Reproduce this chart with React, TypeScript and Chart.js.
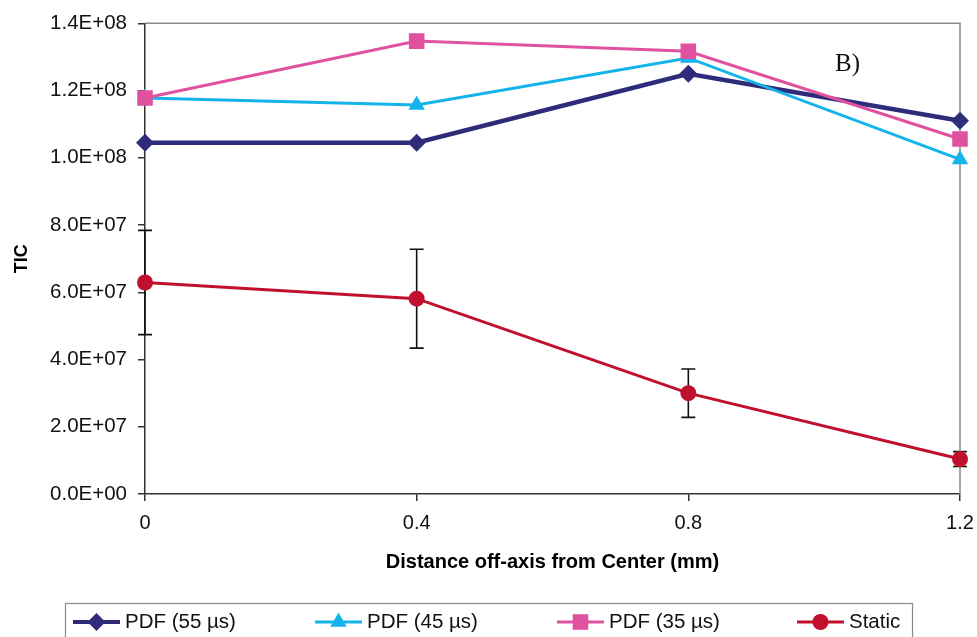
import React, { useEffect, useRef } from 'react';
import { Chart, registerables } from 'chart.js';

Chart.register(...registerables);

// ---- data ----
const distances = ['0', '0.4', '0.8', '1.2'];
const pdf55 = [1.045e8, 1.045e8, 1.25e8, 1.11e8];
const pdf45 = [1.178e8, 1.157e8, 1.297e8, 0.995e8];
const pdf35 = [1.178e8, 1.347e8, 1.317e8, 1.056e8];
const staticVals = [6.29e7, 5.81e7, 3.0e7, 1.04e7];
const staticErr = [1.55e7, 1.47e7, 0.72e7, 0.22e7];
const seriesNames = ['PDF (55 \u00b5s)', 'PDF (45 \u00b5s)', 'PDF (35 \u00b5s)', 'Static'];
const yMax = 1.4e8;
const yStep = 2e7;

const NAVY = '#2E2B7A';
const CYAN = '#14B4EA';
const PINK = '#E0529F';
const RED = '#C0102E';

const FONT = '"Liberation Sans", Arial, sans-serif';

function sci(v: number): string {
  if (v === 0) return '0.0E+00';
  const e = Math.floor(Math.log10(Math.abs(v)) + 1e-9);
  const m = v / Math.pow(10, e);
  const sign = e < 0 ? '-' : '+';
  const ee = Math.abs(e).toString().padStart(2, '0');
  return m.toFixed(1) + 'E' + sign + ee;
}

function drawMarker(ctx: CanvasRenderingContext2D, style: string, x: number, y: number, r: number, color: string) {
  ctx.save();
  ctx.fillStyle = color;
  ctx.beginPath();
  if (style === 'rectRot') {
    ctx.moveTo(x, y - r);
    ctx.lineTo(x + r, y);
    ctx.lineTo(x, y + r);
    ctx.lineTo(x - r, y);
  } else if (style === 'triangle') {
    ctx.moveTo(x, y - r);
    ctx.lineTo(x + r * 0.866, y + r * 0.5);
    ctx.lineTo(x - r * 0.866, y + r * 0.5);
  } else if (style === 'rect') {
    const s = r * Math.SQRT1_2;
    ctx.rect(x - s, y - s, 2 * s, 2 * s);
  } else {
    ctx.arc(x, y, r, 0, Math.PI * 2);
  }
  ctx.closePath();
  ctx.fill();
  ctx.restore();
}

const errorBarPlugin = {
  id: 'errorBars',
  beforeDatasetsDraw(chart: any) {
    const { ctx, scales } = chart;
    const xs = scales.x;
    const ys = scales.y;
    ctx.save();
    ctx.strokeStyle = '#111';
    ctx.lineWidth = 1.6;
    staticVals.forEach((v, i) => {
      const x = xs.getPixelForValue(i);
      const yTop = ys.getPixelForValue(v + staticErr[i]);
      const yBot = ys.getPixelForValue(v - staticErr[i]);
      ctx.beginPath();
      ctx.moveTo(x, yTop);
      ctx.lineTo(x, yBot);
      ctx.moveTo(x - 7, yTop);
      ctx.lineTo(x + 7, yTop);
      ctx.moveTo(x - 7, yBot);
      ctx.lineTo(x + 7, yBot);
      ctx.stroke();
    });
    ctx.restore();
  },
};

const framePlugin = {
  id: 'frame',
  beforeDatasetsDraw(chart: any) {
    const { ctx, chartArea } = chart;
    ctx.save();
    ctx.strokeStyle = '#8a8a8a';
    ctx.lineWidth = 1.5;
    ctx.beginPath();
    ctx.moveTo(chartArea.left, chartArea.top);
    ctx.lineTo(chartArea.right, chartArea.top);
    ctx.lineTo(chartArea.right, chartArea.bottom);
    ctx.stroke();
    ctx.restore();
  },
  afterDraw(chart: any) {
    const { ctx, chartArea } = chart;
    ctx.save();
    // panel label
    ctx.fillStyle = '#111';
    ctx.font = '25px "Liberation Serif", "Times New Roman", serif';
    ctx.textAlign = 'left';
    ctx.textBaseline = 'middle';
    ctx.fillText('B)', chartArea.left + 690, chartArea.top + 41);

    // legend box
    const boxLeft = 65.5;
    const boxTop = 603.5;
    const boxRight = 912.5;
    ctx.strokeStyle = '#8a8a8a';
    ctx.lineWidth = 1.2;
    ctx.strokeRect(boxLeft, boxTop, boxRight - boxLeft, 60);
    const colors = [NAVY, CYAN, PINK, RED];
    const styles = ['rectRot', 'triangle', 'rect', 'circle'];
    const radii = [9, 9.5, 11, 8];
    const widths = [4, 3, 3, 3];
    const starts = [73, 315, 557, 797];
    const yc = 622;
    ctx.font = '20.5px ' + FONT;
    ctx.textBaseline = 'middle';
    seriesNames.forEach((name, i) => {
      const x0 = starts[i];
      ctx.strokeStyle = colors[i];
      ctx.lineWidth = widths[i];
      ctx.beginPath();
      ctx.moveTo(x0, yc);
      ctx.lineTo(x0 + 47, yc);
      ctx.stroke();
      drawMarker(ctx, styles[i], x0 + 23.5, yc, radii[i], colors[i]);
      ctx.fillStyle = '#111';
      ctx.fillText(name, x0 + 52, yc);
    });
    ctx.restore();
  },
};

export default function App() {
  const ref = useRef<HTMLCanvasElement | null>(null);
  useEffect(() => {
    if (!ref.current) return;
    const chart = new Chart(ref.current, {
      type: 'line',
      data: {
        labels: distances,
        datasets: [
          {
            label: seriesNames[0],
            data: pdf55,
            borderColor: NAVY,
            backgroundColor: NAVY,
            borderWidth: 4.5,
            pointStyle: 'rectRot',
            pointRadius: 9,
            pointBorderWidth: 0,
            order: 4,
          },
          {
            label: seriesNames[1],
            data: pdf45,
            borderColor: CYAN,
            backgroundColor: CYAN,
            borderWidth: 3,
            pointStyle: 'triangle',
            pointRadius: 9.5,
            pointBorderWidth: 0,
            order: 3,
          },
          {
            label: seriesNames[2],
            data: pdf35,
            borderColor: PINK,
            backgroundColor: PINK,
            borderWidth: 3,
            pointStyle: 'rect',
            pointRadius: 11,
            pointBorderWidth: 0,
            order: 2,
          },
          {
            label: seriesNames[3],
            data: staticVals,
            borderColor: RED,
            backgroundColor: RED,
            borderWidth: 3,
            pointStyle: 'circle',
            pointRadius: 8,
            pointBorderWidth: 0,
            order: 1,
          },
        ],
      },
      options: {
        animation: false,
        responsive: false,
        maintainAspectRatio: false,
        layout: { padding: { left: 0, right: 0, top: 22, bottom: 63 } },
        plugins: {
          legend: { display: false },
          tooltip: { enabled: false },
          title: { display: false },
        },
        elements: { line: { tension: 0 } },
        scales: {
          x: {
            type: 'category',
            offset: false,
            grid: { drawOnChartArea: false, drawTicks: true, tickLength: 7, color: '#333', lineWidth: 1.5 },
            border: { display: true, color: '#333', width: 1.5 },
            ticks: { color: '#111', font: { family: FONT, size: 20 }, padding: 10, maxRotation: 0 },
            title: {
              display: true,
              text: 'Distance off-axis from Center (mm)',
              color: '#000',
              font: { family: FONT, size: 20, weight: 'bold' },
              padding: { top: 0, bottom: 0 },
            },
            afterFit(scale: any) {
              scale.height = 80;
              scale.paddingRight = 17;
              scale.paddingLeft = 0;
            },
          },
          y: {
            type: 'linear',
            min: 0,
            max: yMax,
            grid: { drawOnChartArea: false, drawTicks: true, tickLength: 7, color: '#333', lineWidth: 1.5 },
            border: { display: true, color: '#333', width: 1.5 },
            ticks: {
              stepSize: yStep,
              color: '#111',
              font: { family: FONT, size: 20.5 },
              padding: 11,
              callback: (v: any) => sci(Number(v)),
            },
            title: {
              display: true,
              text: 'TIC',
              color: '#000',
              font: { family: FONT, size: 18, weight: 'bold' },
              padding: { top: 11, bottom: 0 },
            },
            afterFit(scale: any) {
              scale.width = 145;
            },
          },
        },
      },
      plugins: [errorBarPlugin, framePlugin],
    } as any);
    return () => chart.destroy();
  }, []);
  return (
    <div style={{ position: 'absolute', left: 0, top: 0, width: 977, height: 637, background: '#fff' }}>
      <canvas ref={ref} width={977} height={637} style={{ display: 'block', width: 977, height: 637 }} />
    </div>
  );
}
